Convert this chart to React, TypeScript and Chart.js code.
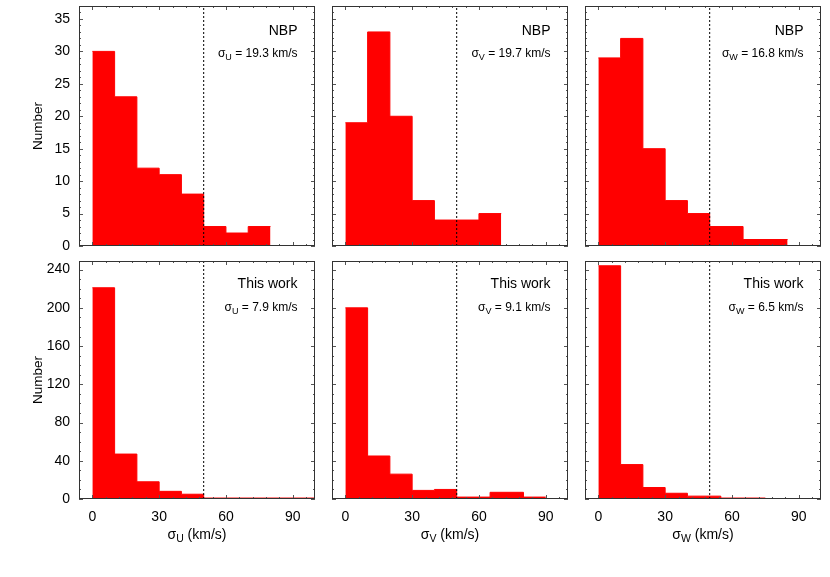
import React, { useEffect, useRef } from "react";
import { Chart, registerables } from "chart.js";

Chart.register(...registerables);

const FONT = "'Liberation Sans', Arial, Helvetica, sans-serif";

// ---------- data: bin edges (km/s) and counts ----------
const nbpUEdges = [0, 10, 20, 30, 40, 50, 60, 70, 80];
const nbpUCounts = [30, 23, 12, 11, 8, 3, 2, 3];
const nbpVEdges = [0, 10, 20, 30, 40, 50, 60, 70];
const nbpVCounts = [19, 33, 20, 7, 4, 4, 5];
const nbpWEdges = [0, 10, 20, 30, 40, 50, 65, 85];
const nbpWCounts = [29, 32, 15, 7, 5, 3, 1];

const twUEdges = [0, 10, 20, 30, 40, 50, 100];
const twUCounts = [221, 47, 18, 8, 5, 1];
const twVEdges = [0, 10, 20, 30, 40, 50, 65, 80, 90];
const twVCounts = [200, 45, 26, 9, 10, 2, 7, 2];
const twWEdges = [0, 10, 20, 30, 40, 55, 75];
const twWCounts = [244, 36, 12, 6, 3, 1];

const components = ["U", "V", "W"];
const sampleLabels = ["NBP", "This work"];
const nbpSigmas = ["19.3", "19.7", "16.8"];
const twSigmas = ["7.9", "9.1", "6.5"];

const xTicks = [0, 30, 60, 90];
const yTicksTop = [0, 5, 10, 15, 20, 25, 30, 35];
const yTicksBottom = [0, 40, 80, 120, 160, 200, 240];
const xRange = [-6, 100];
const yMaxTop = 37;
const yMaxBottom = 249;
const cutLine = 50;

// ---------- layout constants ----------
const COL_LEFTS = [79, 332, 585];
const ROW_TOPS = [6, 261];
const ROW_HEIGHTS = [240, 238];
const PLOT_W = 236;

type Part = [string, boolean];

function drawRich(
  ctx: CanvasRenderingContext2D,
  parts: Part[],
  x: number,
  y: number,
  size: number,
  subSize: number,
  align: "right" | "center"
) {
  let total = 0;
  const widths = parts.map(([t, sub]) => {
    ctx.font = `${sub ? subSize : size}px ${FONT}`;
    const w = ctx.measureText(t).width;
    total += w;
    return w;
  });
  let cx = align === "right" ? x - total : x - total / 2;
  ctx.textAlign = "left";
  ctx.textBaseline = "middle";
  parts.forEach(([t, sub], i) => {
    ctx.font = `${sub ? subSize : size}px ${FONT}`;
    ctx.fillText(t, cx, sub ? y + size * 0.32 : y);
    cx += widths[i];
  });
}

type PanelProps = {
  col: number;
  row: number;
  edges: number[];
  counts: number[];
};

function zeroPad(s: any) {
  s.paddingTop = 0;
  s.paddingBottom = 0;
  s.paddingLeft = 0;
  s.paddingRight = 0;
}

function Panel({ col, row, edges, counts }: PanelProps) {
  const ref = useRef<HTMLCanvasElement | null>(null);

  const yW = col === 0 ? 79 : 10;
  const padTop = row === 0 ? 6 : 8;
  const xH = row === 0 ? 6 : 70;
  const canvasLeft = COL_LEFTS[col] - yW;
  const canvasTop = ROW_TOPS[row] - padTop;
  const canvasW = yW + PLOT_W + 8;
  const canvasH = padTop + ROW_HEIGHTS[row] + xH;

  useEffect(() => {
    if (!ref.current) return;
    const yMax = row === 0 ? yMaxTop : yMaxBottom;
    const yTicks = row === 0 ? yTicksTop : yTicksBottom;
    const yMinor = row === 0 ? 1 : 10;
    const yMajor = row === 0 ? 5 : 40;
    const xMinor = 6;
    const xMajor = 30;
    const comp = components[col];
    const label = sampleLabels[row];
    const sigma = row === 0 ? nbpSigmas[col] : twSigmas[col];

    const histPts = edges.map((e, i) => ({
      x: e,
      y: counts[Math.min(i, counts.length - 1)],
    }));

    const decor = {
      id: "decor",
      afterDatasetsDraw(chart: any) {
        const { ctx, chartArea: a, scales } = chart;
        const xs = scales.x;
        const ys = scales.y;
        ctx.save();
        ctx.strokeStyle = "#555";
        ctx.lineWidth = 1;
        ctx.beginPath();
        for (let v = Math.ceil(xs.min / xMinor) * xMinor; v <= xs.max + 1e-9; v += xMinor) {
          const isMajor = Math.abs(v / xMajor - Math.round(v / xMajor)) < 1e-6;
          const len = isMajor ? 4 : 2;
          const px = Math.round(xs.getPixelForValue(v)) + 0.5;
          ctx.moveTo(px, a.bottom);
          ctx.lineTo(px, a.bottom - len);
          ctx.moveTo(px, a.top);
          ctx.lineTo(px, a.top + len);
        }
        for (let v = Math.ceil(ys.min / yMinor) * yMinor; v <= ys.max + 1e-9; v += yMinor) {
          const isMajor = Math.abs(v / yMajor - Math.round(v / yMajor)) < 1e-6;
          const len = isMajor ? 4 : 2;
          const py = Math.round(ys.getPixelForValue(v)) + 0.5;
          ctx.moveTo(a.left, py);
          ctx.lineTo(a.left + len, py);
          ctx.moveTo(a.right, py);
          ctx.lineTo(a.right - len, py);
        }
        ctx.stroke();
        ctx.strokeStyle = "#333";
        ctx.strokeRect(
          Math.round(a.left) + 0.5,
          Math.round(a.top) + 0.5,
          Math.round(a.right - a.left) - 1,
          Math.round(a.bottom - a.top) - 1
        );
        ctx.restore();
      },
      afterDraw(chart: any) {
        const { ctx, chartArea: a } = chart;
        ctx.save();
        ctx.fillStyle = "#000";
        const textRight = a.right - 17.5;
        ctx.font = `14px ${FONT}`;
        ctx.textAlign = "right";
        ctx.textBaseline = "middle";
        ctx.fillText(label, textRight, a.top + (row === 0 ? 25.5 : 23));
        drawRich(
          ctx,
          [["σ", false], [comp, true], [` = ${sigma} km/s`, false]],
          textRight,
          a.top + (row === 0 ? 48 : 46.5),
          12,
          9,
          "right"
        );
        if (row === 1) {
          drawRich(
            ctx,
            [["σ", false], [comp, true], [" (km/s)", false]],
            (a.left + a.right) / 2,
            a.bottom + 36,
            14,
            10.5,
            "center"
          );
        }
        if (col === 0) {
          ctx.save();
          ctx.translate(38, (a.top + a.bottom) / 2);
          ctx.rotate(-Math.PI / 2);
          ctx.font = `13.5px ${FONT}`;
          ctx.textAlign = "center";
          ctx.textBaseline = "middle";
          ctx.fillText("Number", 0, 0);
          ctx.restore();
        }
        ctx.restore();
      },
    };

    const chart = new Chart(ref.current, {
      type: "line",
      data: {
        datasets: [
          {
            data: [
              { x: cutLine, y: 0 },
              { x: cutLine, y: yMax },
            ],
            borderColor: "#000",
            borderWidth: 1,
            borderDash: [2, 2],
            pointRadius: 0,
            fill: false,
            order: 0,
          },
          {
            data: histPts,
            stepped: true,
            borderColor: "#ff0000",
            borderWidth: 1,
            backgroundColor: "#ff0000",
            fill: "origin",
            pointRadius: 0,
            tension: 0,
            order: 1,
          },
        ],
      },
      options: {
        responsive: false,
        animation: false,
        events: [],
        layout: { padding: { left: 0, top: padTop, right: 8, bottom: 0 } },
        plugins: {
          legend: { display: false },
          tooltip: { enabled: false },
          title: { display: false },
        },
        scales: {
          x: {
            type: "linear",
            min: xRange[0],
            max: xRange[1],
            grid: { display: false, drawTicks: false },
            border: { display: false },
            ticks: {
              display: row === 1,
              padding: 10,
              autoSkip: false,
              maxRotation: 0,
              color: "#000",
              font: { size: 14, family: FONT },
            },
            afterBuildTicks: (s: any) => {
              s.ticks = xTicks.map((v) => ({ value: v }));
            },
            afterFit: (s: any) => {
              s.height = xH;
              zeroPad(s);
            },
          },
          y: {
            type: "linear",
            min: 0,
            max: yMax,
            grid: { display: false, drawTicks: false },
            border: { display: false },
            ticks: {
              display: col === 0,
              padding: 9,
              autoSkip: false,
              color: "#000",
              font: { size: 14, family: FONT },
            },
            afterBuildTicks: (s: any) => {
              s.ticks = yTicks.map((v) => ({ value: v }));
            },
            afterFit: (s: any) => {
              s.width = yW;
              zeroPad(s);
            },
          },
        },
      },
      plugins: [decor],
    } as any);
    return () => chart.destroy();
  }, [col, row, edges, counts]);

  return (
    <canvas
      ref={ref}
      width={canvasW}
      height={canvasH}
      style={{
        position: "absolute",
        left: canvasLeft,
        top: canvasTop,
        width: canvasW,
        height: canvasH,
      }}
    />
  );
}

export default function App() {
  const panels: PanelProps[] = [
    { col: 0, row: 0, edges: nbpUEdges, counts: nbpUCounts },
    { col: 1, row: 0, edges: nbpVEdges, counts: nbpVCounts },
    { col: 2, row: 0, edges: nbpWEdges, counts: nbpWCounts },
    { col: 0, row: 1, edges: twUEdges, counts: twUCounts },
    { col: 1, row: 1, edges: twVEdges, counts: twVCounts },
    { col: 2, row: 1, edges: twWEdges, counts: twWCounts },
  ];
  return (
    <div
      style={{
        position: "absolute",
        left: 0,
        top: 0,
        width: 830,
        height: 577,
        background: "#fff",
        overflow: "hidden",
      }}
    >
      {panels.map((p) => (
        <Panel key={`${p.col}-${p.row}`} {...p} />
      ))}
    </div>
  );
}
